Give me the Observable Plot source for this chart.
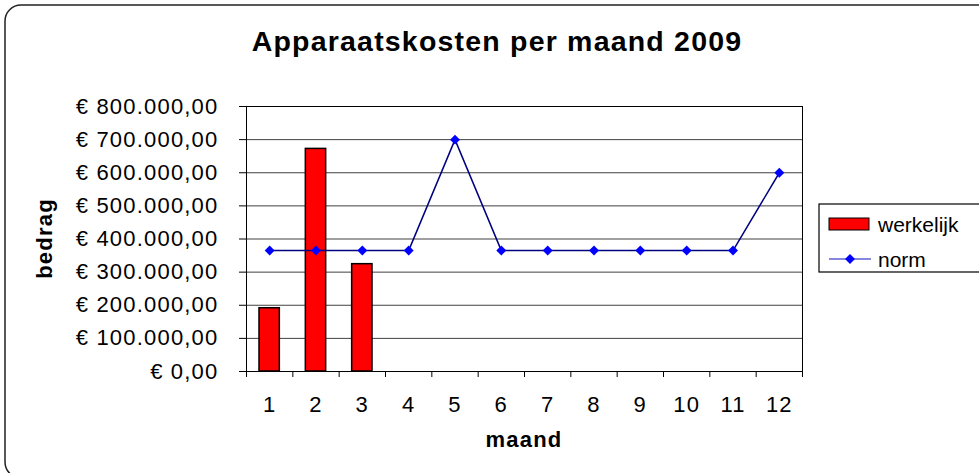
<!DOCTYPE html>
<html><head><meta charset="utf-8">
<script src="https://cdn.jsdelivr.net/npm/d3@7"></script>
<script src="https://cdn.jsdelivr.net/npm/@observablehq/plot@0.6"></script>
<style>
body{margin:0;background:#fff;}
#chart svg{display:block;font-family:"Liberation Sans",Arial,sans-serif;}
#chart svg text{letter-spacing:1.2px;}
#chart svg g.legend text{letter-spacing:0;}
</style></head><body><div id="chart"></div>
<script>
// ---- data ----
const months = [1,2,3,4,5,6,7,8,9,10,11,12];
const werkelijkMonths = [1,2,3];
const werkelijk = [191000, 672000, 324000];
const norm = [365000,365000,365000,365000,700000,365000,365000,365000,365000,365000,365000,600000];
const yTicks = [0,100000,200000,300000,400000,500000,600000,700000,800000];
const title = "Apparaatskosten per maand 2009";
const xLabel = "maand";
const yLabel = "bedrag";
const seriesNames = ["werkelijk","norm"];

const barData = werkelijkMonths.map((m,i)=>({m, v: werkelijk[i]}));
const normData = months.map((m,i)=>({m, v: norm[i]}));
const boundaries = months.map(m=>m-0.5).concat([months[months.length-1]+0.5]);
const euro = d3.formatLocale({decimal:",",thousands:".",grouping:[3],currency:["€ ",""]}).format("$,.2f");

const W=979, H=473, mL=246, mR=177, mT=106, mB=102;
const lineColor = "#000080", dotColor = "#0000ff";

const plot = Plot.plot({
  width:W, height:H,
  marginLeft:mL, marginRight:mR, marginTop:mT, marginBottom:mB,
  style:{fontFamily:'"Liberation Sans",Arial,sans-serif', fontSize:"22px", color:"#000", background:"transparent", overflow:"visible"},
  x:{type:"linear", domain:[0.5,12.5]},
  y:{domain:[0,800000]},
  marks:[
    Plot.ruleY(yTicks, {stroke:"#000", strokeOpacity:0.75}),
    Plot.frame({stroke:"#000"}),
    Plot.rectY(barData, {x1:d=>d.m-0.5, x2:d=>d.m+0.5, y:"v", insetLeft:13, insetRight:13, fill:"#ff0000", stroke:"#000", strokeWidth:1.5}),
    Plot.line(normData, {x:"m", y:"v", stroke:lineColor, strokeWidth:1.5}),
    Plot.dot(normData, {x:"m", y:"v", symbol:"diamond2", r:4.5, fill:dotColor, stroke:"none"}),
    Plot.axisY({ticks:yTicks, tickFormat:euro, tickSize:7, tickPadding:21, label:null, fontSize:22}),
    Plot.axisX({ticks:boundaries, tickFormat:()=>"", tickSize:6, label:null}),
    Plot.axisX({ticks:months, tickFormat:d=>String(d), tickSize:0, tickPadding:25, label:null, fontSize:22})
  ]
});

const svg = d3.select(plot);
// outer chart frame
svg.insert("rect", ":first-child")
  .attr("x",5).attr("y",5).attr("width",990).attr("height",473).attr("rx",16)
  .attr("fill","none").attr("stroke","#222").attr("stroke-width",1.5);

svg.append("text").text(title)
  .attr("x",497).attr("y",51).attr("text-anchor","middle")
  .attr("font-size",28.5).attr("font-weight","bold").attr("fill","#000");

svg.append("text").text(xLabel)
  .attr("x",(mL + (W-mR))/2).attr("y",447).attr("text-anchor","middle")
  .attr("font-size",22).attr("font-weight","bold").attr("fill","#000");

svg.append("text").text(yLabel)
  .attr("transform",`translate(52,${(mT + (H-mB))/2}) rotate(-90)`)
  .attr("text-anchor","middle")
  .attr("font-size",22).attr("font-weight","bold").attr("fill","#000");

// legend
const lg = svg.append("g").attr("class","legend").attr("text-anchor","start");
lg.append("rect").attr("x",819).attr("y",204).attr("width",200).attr("height",68)
  .attr("fill","#fff").attr("stroke","#000").attr("stroke-width",1.2);
lg.append("rect").attr("x",829).attr("y",218).attr("width",40).attr("height",12)
  .attr("fill","#ff0000").attr("stroke","#000").attr("stroke-width",1);
lg.append("text").text(seriesNames[0]).attr("x",878).attr("y",232)
  .attr("text-anchor","start").attr("font-size",21).attr("fill","#000");
lg.append("line").attr("x1",829).attr("x2",871).attr("y1",259).attr("y2",259)
  .attr("stroke","#1010c0").attr("stroke-width",1.2);
lg.append("path").attr("d",d3.symbol(d3.symbolDiamond2, 63)())
  .attr("transform","translate(850,259)").attr("fill",dotColor);
lg.append("text").text(seriesNames[1]).attr("x",878).attr("y",267)
  .attr("text-anchor","start").attr("font-size",21).attr("fill","#000");

document.getElementById("chart").appendChild(plot);
</script></body></html>
